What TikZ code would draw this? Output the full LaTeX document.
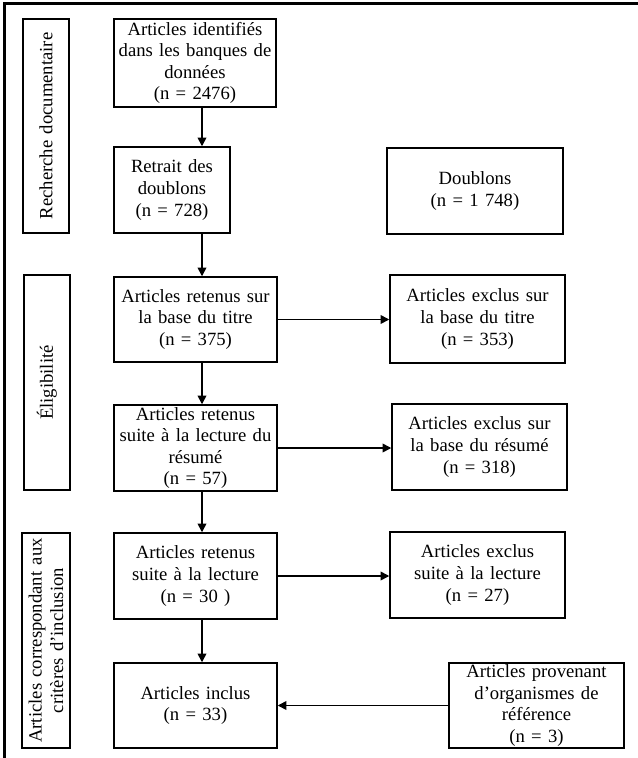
\documentclass[tikz,border=0pt]{standalone}
\usepackage{fontspec}
\setmainfont{Liberation Serif}[WordSpace=1.35]
\usetikzlibrary{arrows.meta}
\begin{document}
\begin{tikzpicture}[x=0.75pt,y=-0.75pt,
  box/.style={draw, line width=1.1pt, inner sep=0pt, align=center,
    font=\fontsize{14pt}{16.2pt}\selectfont},
  sidebox/.style={box, rotate=90},
  arr/.style={line width=1.2pt, -{Triangle[length=6.5pt,width=6.5pt]}},
  frameline/.style={line width=1.6pt}]
\useasboundingbox (0,0) rectangle (638,758);
\draw[frameline] (4.5,758) -- (4.5,3.5) -- (638,3.5);

% side labels
\node[sidebox, minimum width=160.5pt, minimum height=34.5pt] (rech) at (46,126) {Recherche documentaire};
\node[sidebox, minimum width=161.25pt, minimum height=34.5pt] (elig) at (47,382.5) {Éligibilité};
\node[sidebox, minimum width=161.25pt, minimum height=36pt] (incl) at (46,640.5) {Articles correspondant aux\\critères d’inclusion};

% main column
\node[box, minimum width=121.5pt, minimum height=66pt] (A) at (195,63) {Articles identifiés\\dans les banques de\\données\\(n = 2476)};
\node[box, minimum width=87pt, minimum height=64.5pt] (B) at (172,190) {Retrait des\\doublons\\(n = 728)};
\node[box, minimum width=122.25pt, minimum height=63.75pt] (C) at (195.5,319.5) {Articles retenus sur\\la base du titre\\(n = 375)};
\node[box, minimum width=122.25pt, minimum height=64.5pt] (D) at (195.5,448) {Articles retenus\\suite à la lecture du\\résumé\\(n = 57)};
\node[box, minimum width=122.25pt, minimum height=64.5pt] (G) at (195.5,576) {Articles retenus\\suite à la lecture\\(n = 30 )};
\node[box, minimum width=122.25pt, minimum height=63.75pt] (H) at (195.5,705.5) {Articles inclus\\(n = 33)};

% right column
\node[box, minimum width=132pt, minimum height=64.5pt] (dbl) at (475,191) {Doublons\\(n = 1 748)};
\node[box, minimum width=131.25pt, minimum height=66pt] (E) at (477.5,319) {Articles exclus sur\\la base du titre\\(n = 353)};
\node[box, minimum width=131.25pt, minimum height=64.5pt] (F) at (479.5,447) {Articles exclus sur\\la base du résumé\\(n = 318)};
\node[box, minimum width=131.25pt, minimum height=64.5pt] (I) at (477.5,575) {Articles exclus\\suite à la lecture\\(n = 27)};
\node[box, minimum width=131.25pt, minimum height=63.75pt] (J) at (536.5,705.5) {Articles provenant\\d’organismes de\\référence\\(n = 3)};

% connectors
\coordinate (ax) at (202,0);
\draw[arr] (A.south -| ax) -- (B.north -| ax);
\draw[arr] (B.south -| ax) -- (C.north -| ax);
\draw[arr] (C.south -| ax) -- (D.north -| ax);
\draw[arr] (D.south -| ax) -- (G.north -| ax);
\draw[arr] (G.south -| ax) -- (H.north -| ax);
\draw[arr] (C.east) -- (E.west |- C.east);
\draw[arr] (D.east) -- (F.west |- D.east);
\draw[arr] (G.east) -- (I.west |- G.east);
\draw[arr] (J.west) -- (H.east |- J.west);
\end{tikzpicture}
\end{document}
